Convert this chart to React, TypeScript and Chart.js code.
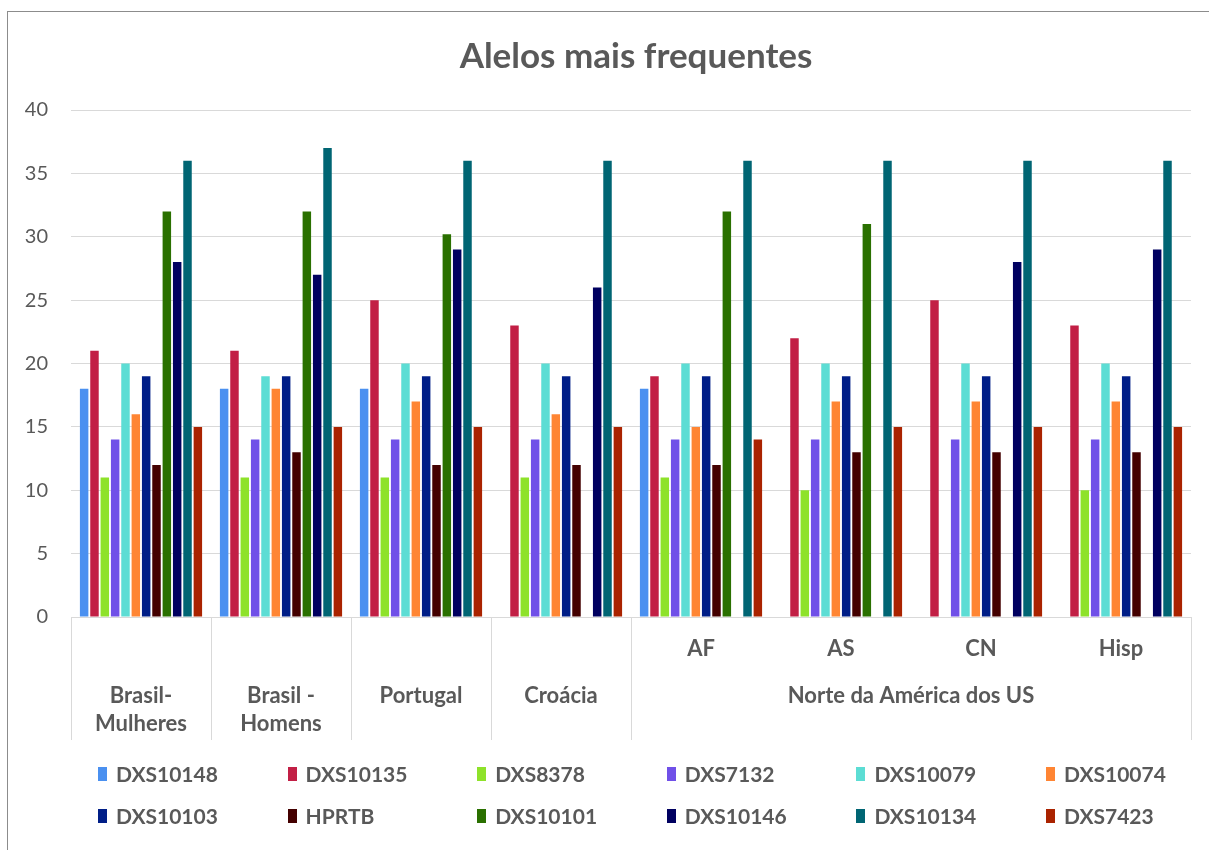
import React, { useEffect, useRef } from "react";
import { Chart, registerables } from "chart.js";
Chart.register(...registerables);

const categories = ["Brasil-Mulheres", "Brasil - Homens", "Portugal", "Croácia", "AF", "AS", "CN", "Hisp"];
const categoryLines = [["Brasil-", "Mulheres"], ["Brasil -", "Homens"], ["Portugal"], ["Croácia"], ["AF"], ["AS"], ["CN"], ["Hisp"]];
const groupLabel = "Norte da América dos US";
const groupStart = 4;
const titleText = "Alelos mais frequentes";

const seriesNames = ["DXS10148", "DXS10135", "DXS8378", "DXS7132", "DXS10079", "DXS10074", "DXS10103", "HPRTB", "DXS10101", "DXS10146", "DXS10134", "DXS7423"];
const DXS10148 = [18, 18, 18, null, 18, null, null, null];
const DXS10135 = [21, 21, 25, 23, 19, 22, 25, 23];
const DXS8378 = [11, 11, 11, 11, 11, 10, null, 10];
const DXS7132 = [14, 14, 14, 14, 14, 14, 14, 14];
const DXS10079 = [20, 19, 20, 20, 20, 20, 20, 20];
const DXS10074 = [16, 18, 17, 16, 15, 17, 17, 17];
const DXS10103 = [19, 19, 19, 19, 19, 19, 19, 19];
const HPRTB = [12, 13, 12, 12, 12, 13, 13, 13];
const DXS10101 = [32, 32, 30.2, null, 32, 31, null, null];
const DXS10146 = [28, 27, 29, 26, null, null, 28, 29];
const DXS10134 = [36, 37, 36, 36, 36, 36, 36, 36];
const DXS7423 = [15, 15, 15, 15, 14, 15, 15, 15];
const seriesValues = [DXS10148, DXS10135, DXS8378, DXS7132, DXS10079, DXS10074, DXS10103, HPRTB, DXS10101, DXS10146, DXS10134, DXS7423];
const seriesColors = ["#4A90F0", "#C21F45", "#8EE22A", "#7050E8", "#5CDDD4", "#FF8533", "#001E87", "#440000", "#2A7000", "#000060", "#006573", "#AA2300"];

const yTicks = [0, 5, 10, 15, 20, 25, 30, 35, 40];

const FONT = "Lato, 'Open Sans', sans-serif";
const TEXT = "#595959";
const GRID = "#d9d9d9";
const AXIS_H = 123;

const decorPlugin = {
  id: "decor",
  afterDraw(chart: any) {
    const ctx = chart.ctx;
    const xs = chart.scales.x;
    const top = xs.top;
    const bottom = top + AXIS_H;
    const w = (xs.right - xs.left) / categories.length;
    ctx.save();
    // title
    ctx.fillStyle = TEXT;
    ctx.font = `bold 35px ${FONT}`;
    ctx.textAlign = "center";
    ctx.textBaseline = "middle";
    ctx.fillText(titleText, 636, 57);

    // separators
    ctx.strokeStyle = GRID;
    ctx.lineWidth = 1;
    const bounds: number[] = [];
    for (let i = 0; i <= groupStart; i++) bounds.push(xs.getPixelForValue(i) - w / 2);
    bounds.push(xs.right);
    bounds.forEach((x) => {
      const px = Math.round(x) + 0.5;
      ctx.beginPath();
      ctx.moveTo(px, top);
      ctx.lineTo(px, bottom);
      ctx.stroke();
    });

    // category labels
    ctx.fillStyle = TEXT;
    ctx.font = `bold 22px ${FONT}`;
    categoryLines.forEach((lines, i) => {
      const cx = xs.getPixelForValue(i);
      if (i >= groupStart) {
        ctx.fillText(lines[0], cx, top + 32);
      } else {
        lines.forEach((ln, k) => ctx.fillText(ln, cx, top + 79 + k * 28));
      }
    });
    const gx = (bounds[groupStart] + xs.right) / 2;
    ctx.fillText(groupLabel, gx, top + 79);

    // legend
    ctx.font = `bold 21px ${FONT}`;
    ctx.textAlign = "left";
    chart.data.datasets.forEach((ds: any, i: number) => {
      const col = i % 6;
      const row = Math.floor(i / 6);
      const x = 98 + col * 189.6;
      const y = 774 + row * 42;
      ctx.fillStyle = ds.backgroundColor;
      ctx.fillRect(Math.round(x), Math.round(y - 7), 9, 14);
      ctx.fillStyle = TEXT;
      ctx.fillText(ds.label, x + 18, y + 1);
    });
    ctx.restore();
  },
};

export default function App() {
  const ref = useRef<HTMLCanvasElement | null>(null);
  useEffect(() => {
    if (!ref.current) return;
    const chart = new Chart(ref.current, {
      type: "bar",
      data: {
        labels: categories,
        datasets: seriesNames.map((name, i) => ({
          label: name,
          data: seriesValues[i],
          backgroundColor: seriesColors[i],
          borderWidth: 0,
          categoryPercentage: 0.886,
          barPercentage: 0.82,
        })),
      },
      options: {
        animation: false,
        responsive: false,
        maintainAspectRatio: false,
        layout: { padding: { top: 110, bottom: 110, left: 0, right: 18 } },
        plugins: {
          legend: { display: false },
          title: { display: false },
          tooltip: { enabled: false },
        },
        scales: {
          x: {
            type: "category",
            grid: { display: false },
            border: { display: true, color: GRID, width: 1 },
            ticks: { display: false },
            afterFit: (s: any) => {
              s.height = AXIS_H;
            },
          },
          y: {
            min: 0,
            max: 40,
            afterBuildTicks: (s: any) => {
              s.ticks = yTicks.map((v) => ({ value: v }));
            },
            ticks: { color: TEXT, font: { family: FONT, size: 20 }, padding: 23 },
            grid: { color: GRID, lineWidth: 1, drawTicks: false },
            border: { display: false },
            afterFit: (s: any) => {
              s.width = 71;
            },
          },
        },
      },
      plugins: [decorPlugin],
    });
    return () => chart.destroy();
  }, []);
  return (
    <div style={{ position: "fixed", left: 0, top: 0, width: 1209, height: 850, overflow: "hidden", background: "#fff" }}>
      <div style={{ position: "absolute", left: 7, top: 11, width: 1300, height: 900, border: "1px solid #8c8c8c" }} />
      <canvas ref={ref} width={1209} height={850} style={{ position: "absolute", left: 0, top: 0 }} />
    </div>
  );
}
